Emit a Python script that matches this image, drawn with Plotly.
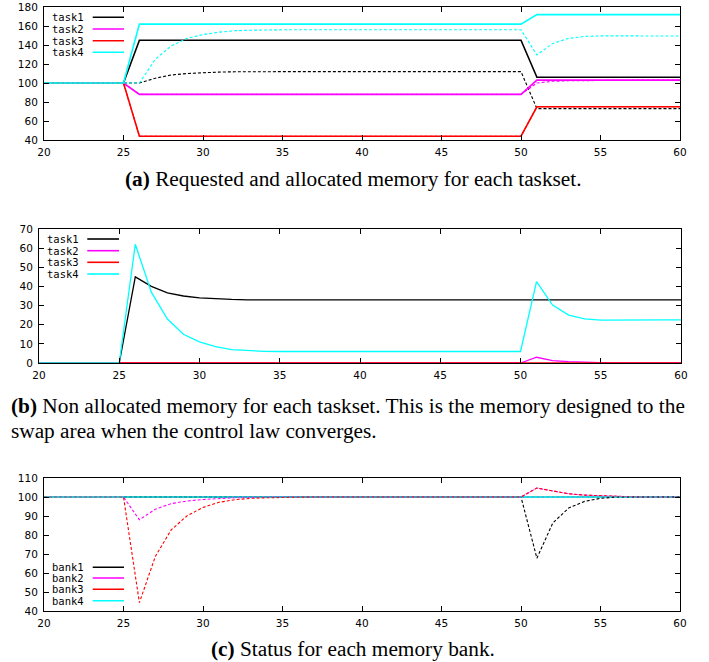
import plotly.graph_objects as go

# ---------------- data ----------------
x = [20, 21, 22, 23, 24, 25, 26, 27, 28, 29, 30, 31, 32, 33, 34, 35, 36, 37, 38, 39, 40,
     41, 42, 43, 44, 45, 46, 47, 48, 49, 50, 51, 52, 53, 54, 55, 56, 57, 58, 59, 60]

task_names = ["task1", "task2", "task3", "task4"]
bank_names = ["bank1", "bank2", "bank3", "bank4"]

# (a) requested (solid) and allocated (dashed) memory
req1 = [100, 100, 100, 100, 100, 100, 145, 145, 145, 145, 145, 145, 145, 145, 145, 145, 145, 145, 145, 145, 145,
        145, 145, 145, 145, 145, 145, 145, 145, 145, 145, 106, 106, 106, 106, 106, 106, 106, 106, 106, 106]
alloc1 = [100, 100, 100, 100, 100, 100, 100, 105, 108.4, 110, 111, 111.5, 111.8, 112, 112, 112, 112, 112, 112, 112, 112,
          112, 112, 112, 112, 112, 112, 112, 112, 112, 112, 73, 73, 73, 73, 73, 73, 73, 73, 73, 73]
req2 = [100, 100, 100, 100, 100, 100, 88, 88, 88, 88, 88, 88, 88, 88, 88, 88, 88, 88, 88, 88, 88,
        88, 88, 88, 88, 88, 88, 88, 88, 88, 88, 103, 103, 103, 103, 103, 103, 103, 103, 103, 103]
alloc2 = [100, 100, 100, 100, 100, 100, 88, 88, 88, 88, 88, 88, 88, 88, 88, 88, 88, 88, 88, 88, 88,
          88, 88, 88, 88, 88, 88, 88, 88, 88, 88, 100, 101.8, 102.3, 102.65, 102.8, 102.9, 103, 103, 103, 103]
req3 = [100, 100, 100, 100, 100, 100, 44, 44, 44, 44, 44, 44, 44, 44, 44, 44, 44, 44, 44, 44, 44,
        44, 44, 44, 44, 44, 44, 44, 44, 44, 44, 75, 75, 75, 75, 75, 75, 75, 75, 75, 75]
alloc3 = [100, 100, 100, 100, 100, 100, 44, 44, 44, 44, 44, 44, 44, 44, 44, 44, 44, 44, 44, 44, 44,
          44, 44, 44, 44, 44, 44, 44, 44, 44, 44, 75, 75, 75, 75, 75, 75, 75, 75, 75, 75]
req4 = [100, 100, 100, 100, 100, 100, 162, 162, 162, 162, 162, 162, 162, 162, 162, 162, 162, 162, 162, 162, 162,
        162, 162, 162, 162, 162, 162, 162, 162, 162, 162, 172, 172, 172, 172, 172, 172, 172, 172, 172, 172]
alloc4 = [100, 100, 100, 100, 100, 100, 100, 125, 139, 147, 151, 153.5, 155, 155.6, 156, 156, 156, 156, 156, 156, 156,
          156, 156, 156, 156, 156, 156, 156, 156, 156, 156, 129.5, 141.7, 147, 149, 149.6, 149.5, 149.5, 149.5, 149.5, 149.5]

# (b) non allocated memory
na1 = [0, 0, 0, 0, 0, 0, 45, 40, 36.6, 35, 34, 33.5, 33.2, 33, 33, 33, 33, 33, 33, 33, 33,
       33, 33, 33, 33, 33, 33, 33, 33, 33, 33, 33, 33, 33, 33, 33, 33, 33, 33, 33, 33]
na2 = [0, 0, 0, 0, 0, 0, 0, 0, 0, 0, 0, 0, 0, 0, 0, 0, 0, 0, 0, 0, 0,
       0, 0, 0, 0, 0, 0, 0, 0, 0, 0, 3, 1.2, 0.7, 0.35, 0.2, 0.1, 0, 0, 0, 0]
na3 = [0, 0, 0, 0, 0, 0, 0, 0, 0, 0, 0, 0, 0, 0, 0, 0, 0, 0, 0, 0, 0,
       0, 0, 0, 0, 0, 0, 0, 0, 0, 0, 0, 0, 0, 0, 0, 0, 0, 0, 0, 0]
na4 = [0, 0, 0, 0, 0, 0, 62, 37, 23, 15, 11, 8.5, 7, 6.4, 6.1, 6, 6, 6, 6, 6, 6,
       6, 6, 6, 6, 6, 6, 6, 6, 6, 6, 42.5, 30.3, 25, 23, 22.4, 22.5, 22.5, 22.5, 22.5, 22.5]

# (c) memory bank status (dashed) and capacity (solid)
capacity = [100, 100, 100, 100, 100, 100, 100, 100, 100, 100, 100, 100, 100, 100, 100, 100, 100, 100, 100, 100, 100,
            100, 100, 100, 100, 100, 100, 100, 100, 100, 100, 100, 100, 100, 100, 100, 100, 100, 100, 100, 100]
bank1 = [100, 100, 100, 100, 100, 100, 100, 100, 100, 100, 100, 100, 100, 100, 100, 100, 100, 100, 100, 100, 100,
         100, 100, 100, 100, 100, 100, 100, 100, 100, 100, 67.8, 86.3, 94.2, 97.7, 99.3, 100, 100, 100, 100, 100]
bank2 = [100, 100, 100, 100, 100, 100, 88, 93.6, 96.5, 97.9, 98.7, 99.3, 99.6, 99.8, 100, 100, 100, 100, 100, 100, 100,
         100, 100, 100, 100, 100, 100, 100, 100, 100, 100, 104.7, 103, 101.7, 101, 100.6, 100.3, 100.1, 100, 100, 100]
bank3 = [100, 100, 100, 100, 100, 100, 44.4, 68.7, 82.7, 90.1, 94.5, 97.2, 98.6, 99.3, 99.6, 99.8, 100, 100, 100, 100, 100,
         100, 100, 100, 100, 100, 100, 100, 100, 100, 100, 104.7, 103, 101.7, 101, 100.6, 100.3, 100.1, 100, 100, 100]
bank4 = [100, 100, 100, 100, 100, 100, 100, 100, 100, 100, 100, 100, 100, 100, 100, 100, 100, 100, 100, 100, 100,
         100, 100, 100, 100, 100, 100, 100, 100, 100, 100, 100, 100, 100, 100, 100, 100, 100, 100, 100, 100]

x_ticks = [20, 25, 30, 35, 40, 45, 50, 55, 60]
ya_ticks = [40, 60, 80, 100, 120, 140, 160, 180]
yb_ticks = [0, 10, 20, 30, 40, 50, 60, 70]
yc_ticks = [40, 50, 60, 70, 80, 90, 100, 110]

captions = {
    "a": ("(a)", " Requested and allocated memory for each taskset."),
    "b1": ("(b)", " Non allocated memory for each taskset. This is the memory designed to the"),
    "b2": ("", "swap area when the control law converges."),
    "c": ("(c)", " Status for each memory bank."),
}

colors = ["#000000", "#ff00ff", "#ff0000", "#00ffff"]

# ---------------- figure ----------------
W, H = 709, 662
fig = go.Figure()

def px_dom_x(l, r):
    return [l / W, r / W]

def px_dom_y(t, b):
    return [1 - b / H, 1 - t / H]

panels = {
    "a": dict(xd=px_dom_x(44, 680), yd=px_dom_y(7, 140), yr=[40, 180], yt=ya_ticks, xa="x", ya="y"),
    "b": dict(xd=px_dom_x(39, 681), yd=px_dom_y(229, 363), yr=[0, 70], yt=yb_ticks, xa="x2", ya="y2"),
    "c": dict(xd=px_dom_x(44, 680), yd=px_dom_y(478, 611), yr=[40, 110], yt=yc_ticks, xa="x3", ya="y3"),
}

DASH = "3px,2px"

def add_line(p, yv, color, dash=None, width=1.5):
    fig.add_trace(go.Scatter(
        x=x, y=yv, mode="lines", xaxis=panels[p]["xa"], yaxis=panels[p]["ya"],
        line=dict(color=color, width=width, dash=dash if dash else "solid"),
        showlegend=False, hoverinfo="skip"))

# panel a
req = [req1, req2, req3, req4]
alloc = [alloc1, alloc2, alloc3, alloc4]
for i in range(4):
    add_line("a", req[i], colors[i], width=1.6)
    add_line("a", alloc[i], colors[i], dash=DASH, width=1.1)

# panel b
for i, s in enumerate([na1, na2, na3, na4]):
    add_line("b", s, colors[i], width=1.3)

# panel c
for i in range(4):
    add_line("c", capacity, colors[i], width=1.5)
for i, s in enumerate([bank1, bank2, bank3, bank4]):
    add_line("c", s, colors[i], dash=DASH, width=1.1)

tickfont = dict(family="DejaVu Sans", size=10.5, color="#000")
layout = dict(
    width=W, height=H, margin=dict(l=0, r=0, t=0, b=0, autoexpand=False),
    paper_bgcolor="white", plot_bgcolor="white", showlegend=False,
)
for k, p in panels.items():
    suffix = "" if p["xa"] == "x" else p["xa"][1:]
    layout["xaxis" + suffix] = dict(
        domain=p["xd"], range=[20, 60], tickvals=x_ticks, ticks="inside", ticklen=5,
        tickcolor="#000", showline=True, linecolor="#000", linewidth=1, mirror="ticks",
        showgrid=False, zeroline=False, tickfont=tickfont, anchor=p["ya"],
        ticklabelstandoff=2, automargin=False)
    layout["yaxis" + suffix] = dict(
        domain=p["yd"], range=p["yr"], tickvals=p["yt"], ticks="inside", ticklen=5,
        tickcolor="#000", showline=True, linecolor="#000", linewidth=1, mirror="ticks",
        showgrid=False, zeroline=False, tickfont=tickfont, anchor=p["xa"],
        ticklabelstandoff=3, automargin=False)
fig.update_layout(**layout)

# legends (text left of the line sample, gnuplot style)
legend_specs = [
    ("a", task_names, 0.0645, 0.0766, 0.1258, [0.9226, 0.8346, 0.7466, 0.6594]),
    ("b", task_names, 0.0639, 0.0752, 0.1246, [0.9254, 0.8380, 0.7515, 0.6642]),
    ("c", bank_names, 0.0645, 0.0766, 0.1258, [0.3286, 0.2481, 0.1632, 0.0774]),
]
for p, names, tx, lx0, lx1, ys in legend_specs:
    xr = panels[p]["xa"] + " domain"
    yr = panels[p]["ya"] + " domain"
    for i, name in enumerate(names):
        fig.add_annotation(text=name, xref=xr, yref=yr, x=tx, y=ys[i], xanchor="right",
                           yanchor="middle", showarrow=False, borderpad=0,
                           font=dict(family="DejaVu Sans Mono", size=10.5, color="#000"))
        fig.add_shape(type="line", xref=xr, yref=yr, x0=lx0, x1=lx1, y0=ys[i], y1=ys[i],
                      line=dict(color=colors[i], width=1.6))

capfont = dict(family="Liberation Serif", size=21.3, color="#000")
def cap(key, xp, yp, anchor):
    bold, rest = captions[key]
    txt = (f"<b>{bold}</b>" if bold else "") + rest
    fig.add_annotation(text=txt, xref="paper", yref="paper", x=xp / W, y=1 - yp / H,
                       xanchor=anchor, yanchor="middle", showarrow=False, font=capfont)

cap("a", 353, 179, "center")
cap("b1", 9, 406, "left")
cap("b2", 9, 431, "left")
cap("c", 353, 649, "center")

fig.write_html("out.html", config={"displayModeBar": False},
               post_script="document.body.style.margin='0';")
